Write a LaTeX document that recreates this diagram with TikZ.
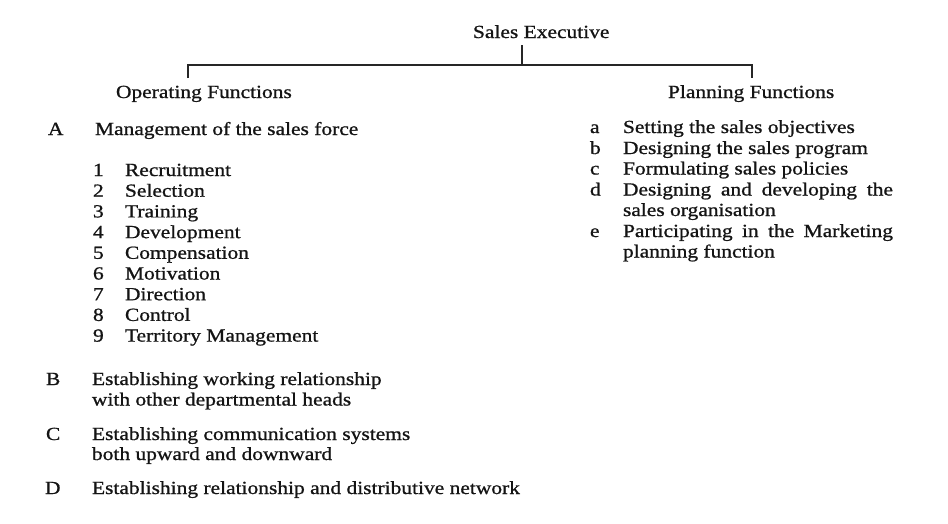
\documentclass[tikz,border=0pt]{standalone}
\usepackage{fontspec}
\setmainfont[FakeStretch=1.16,FakeBold=0.9]{Liberation Serif}
\begin{document}
\begin{tikzpicture}[x=1pt,y=-1pt,
  txt/.style={anchor=base west,inner sep=0pt,outer sep=0pt,text=black!92,font=\fontsize{18.5}{20.7}\selectfont},
  conn/.style={draw=black!85,line width=1.3pt}]
\useasboundingbox[fill=white] (0,0) rectangle (948,523);
% head
\node[txt] (se) at (473,38) {Sales Executive};
\coordinate (top) at (522,45);
\coordinate (jn) at (522,65);
\coordinate (lend) at (188,78);
\coordinate (rend) at (752,78);
\draw[conn] (top) -- (jn);
\draw[conn] (lend) |- (jn) -| (rend);
% column headings
\node[txt] (op) at (116,98) {Operating Functions};
\node[txt] (pl) at (668,98) {Planning Functions};
% A
\node[txt] (lA) at (48,135) {A};
\node[txt] (tA) at (95,135) {Management of the sales force};
\foreach \n/\t/\y in {1/Recruitment/176,2/Selection/196.7,3/Training/217.4,4/Development/238.1,5/Compensation/258.8,6/Motivation/279.5,7/Direction/300.2,8/Control/320.9,9/Territory Management/341.6}{
  \node[txt] (n\n) at (93,\y) {\n};
  \node[txt] (t\n) at (125,\y) {\t};
}
% B C D
\node[txt] (lB) at (46,385) {B};
\node[txt] (tB1) at (92,385) {Establishing working relationship};
\node[txt] (tB2) at (92,405.5) {with other departmental heads};
\node[txt] (lC) at (46,440) {C};
\node[txt] (tC1) at (92,440) {Establishing communication systems};
\node[txt] (tC2) at (92,460) {both upward and downward};
\node[txt] (lD) at (45,494) {D};
\node[txt] (tD) at (92,494) {Establishing relationship and distributive network};
% planning
\node[txt] (la) at (590,133) {a};
\node[txt] (ta) at (623,133) {Setting the sales objectives};
\node[txt] (lb) at (590,154) {b};
\node[txt] (tb) at (623,154) {Designing the sales program};
\node[txt] (lc) at (590,174.5) {c};
\node[txt] (tc) at (623,174.5) {Formulating sales policies};
\node[txt] (ld) at (590,195.5) {d};
\node[txt] (td1) at (623,195.5) {\makebox[270pt][s]{Designing and developing the}};
\node[txt] (td2) at (623,216) {sales organisation};
\node[txt] (le) at (590,237) {e};
\node[txt] (te1) at (623,237) {\makebox[270pt][s]{Participating in the Marketing}};
\node[txt] (te2) at (623,257.5) {planning function};
\end{tikzpicture}
\end{document}
